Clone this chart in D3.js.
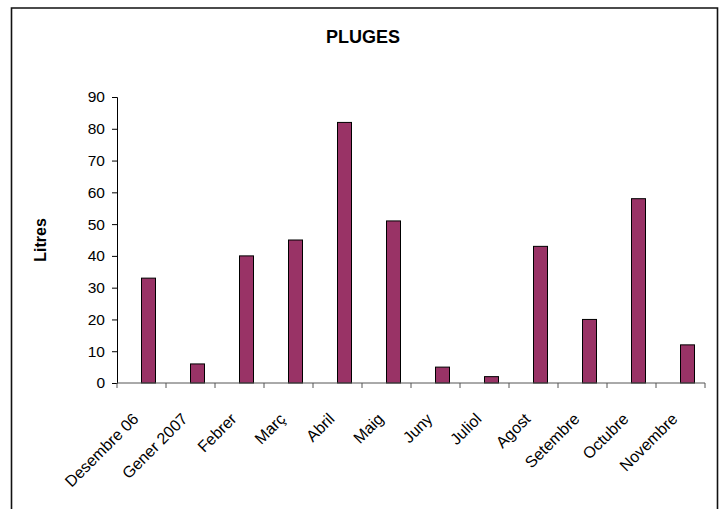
<!DOCTYPE html>
<html>
<head>
<meta charset="utf-8">
<script src="https://cdn.jsdelivr.net/npm/d3@7"></script>
<style>
  body { margin: 0; background: #fff; }
  text { font-family: "Liberation Sans", Arial, sans-serif; fill: #000; }
</style>
</head>
<body>
<div id="chart"></div>
<script>
// rainfall per month (litres)
const months = ['Desembre 06', 'Gener 2007', 'Febrer', 'Març', 'Abril', 'Maig',
  'Juny', 'Juliol', 'Agost', 'Setembre', 'Octubre', 'Novembre'];
const litres = [33, 6, 40, 45, 82, 51, 5, 2, 43, 20, 58, 12];
const yTicks = [0, 10, 20, 30, 40, 50, 60, 70, 80, 90];

const width = 723, height = 509;
const plot = { left: 117, right: 705, top: 97, bottom: 383 };

const svg = d3.select('#chart').append('svg')
  .attr('width', width)
  .attr('height', height);

// outer chart frame (bottom edge is cut off)
svg.append('path')
  .attr('d', `M11.5,${height + 2}V8H717.5V${height + 2}`)
  .attr('fill', 'none')
  .attr('stroke', '#111')
  .attr('stroke-width', 1.6);

const x = d3.scaleBand()
  .domain(months)
  .range([plot.left, plot.right]);

const y = d3.scaleLinear()
  .domain([0, 90])
  .range([plot.bottom, plot.top]);

const bw = x.bandwidth();

// bars sit in the right half of each slot (second series of a cluster)
svg.append('g').selectAll('rect')
  .data(months)
  .join('rect')
  .attr('x', (d) => x(d) + bw * 0.5)
  .attr('y', (d, i) => y(litres[i]))
  .attr('width', bw * 14 / 49)
  .attr('height', (d, i) => y(0) - y(litres[i]))
  .attr('fill', '#993366')
  .attr('stroke', '#000')
  .attr('stroke-width', 1);

// y axis
const yAxis = svg.append('g')
  .attr('transform', `translate(${plot.left},0)`)
  .call(d3.axisLeft(y).tickValues(yTicks).tickSize(5).tickPadding(7));
yAxis.select('.domain').attr('stroke', '#000');
yAxis.selectAll('.tick line').attr('stroke', '#000');
yAxis.selectAll('.tick text')
  .style('font-size', '15.5px')
  .style('font-family', '"Liberation Sans", Arial, sans-serif');

// x axis: ticks between categories
const xAxis = svg.append('g')
  .attr('transform', `translate(0,${plot.bottom})`);
xAxis.append('line')
  .attr('x1', plot.left).attr('x2', plot.right)
  .attr('stroke', '#555');
xAxis.selectAll('line.tk')
  .data(months.concat(['end']))
  .join('line')
  .attr('class', 'tk')
  .attr('x1', (d, i) => plot.left + i * bw)
  .attr('x2', (d, i) => plot.left + i * bw)
  .attr('y1', 0).attr('y2', 5)
  .attr('stroke', '#555');
xAxis.selectAll('text')
  .data(months)
  .join('text')
  .attr('transform', (d) => `translate(${x(d) + bw / 2 - 2},37) rotate(-45)`)
  .attr('text-anchor', 'end')
  .style('font-size', '16px')
  .text((d) => d);

// title
svg.append('text')
  .attr('x', 363)
  .attr('y', 43)
  .attr('text-anchor', 'middle')
  .style('font-size', '18px')
  .style('font-weight', 'bold')
  .text('PLUGES');

// y label
svg.append('text')
  .attr('transform', 'translate(46,240) rotate(-90)')
  .attr('text-anchor', 'middle')
  .style('font-size', '16px')
  .style('font-weight', 'bold')
  .text('Litres');
</script>
</body>
</html>
